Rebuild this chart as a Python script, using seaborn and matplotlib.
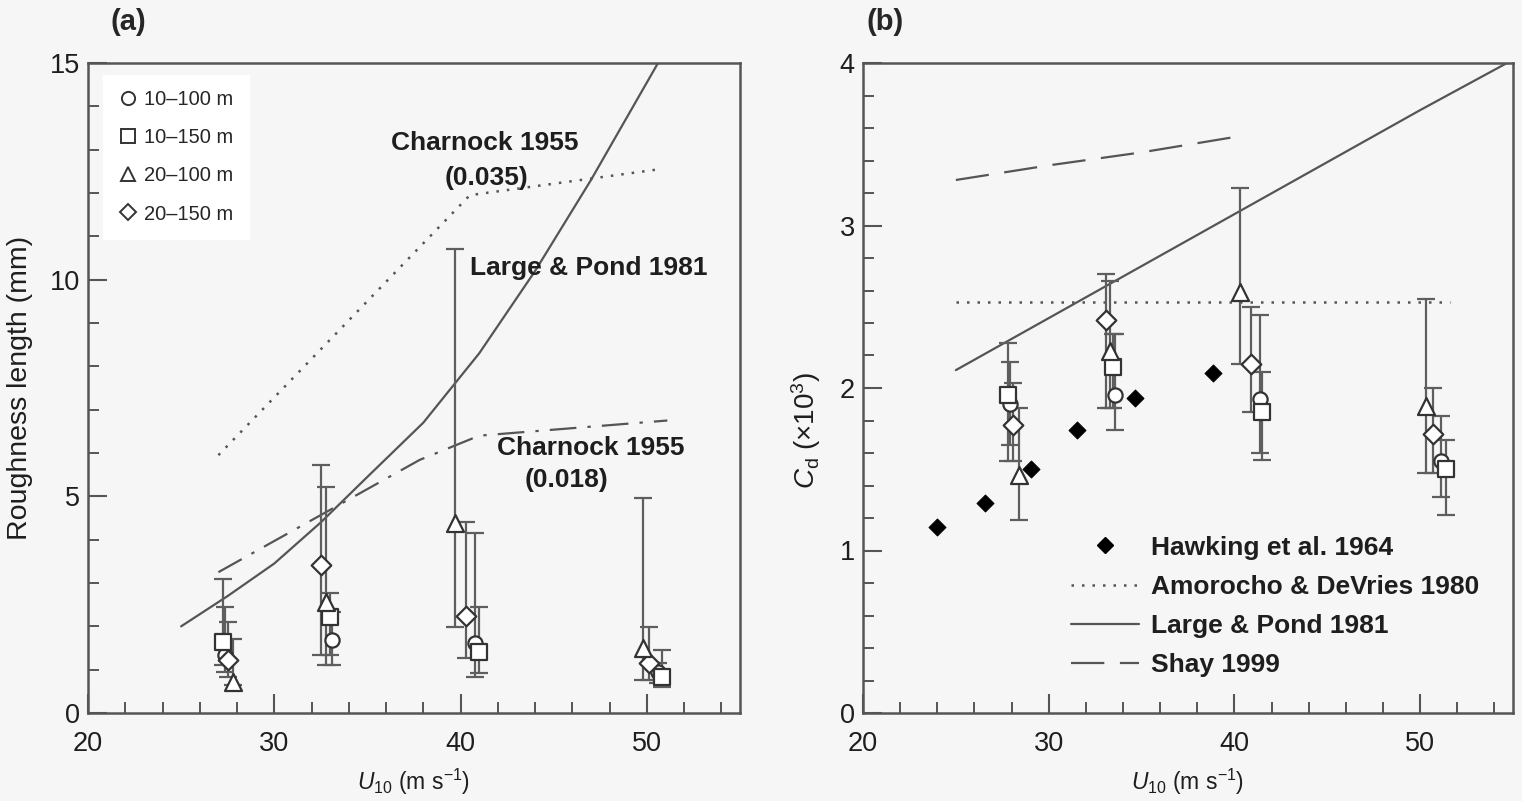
import numpy as np
import pandas as pd
import matplotlib
matplotlib.use("Agg")
import matplotlib.pyplot as plt
import seaborn as sns
from matplotlib.ticker import MultipleLocator
from matplotlib.lines import Line2D
from matplotlib.transforms import ScaledTranslation

# ---------------- data: panel (a) roughness length (mm) ----------------
a_circle_x = [27.35, 33.1, 40.8, 50.6]
a_circle_y = [1.35, 1.68, 1.62, 0.95]
a_circle_lo = [0.95, 1.11, 0.83, 0.70]
a_circle_hi = [2.45, 2.33, 4.15, 1.15]

a_square_x = [27.25, 33.0, 41.0, 50.8]
a_square_y = [1.64, 2.22, 1.41, 0.83]
a_square_lo = [1.10, 1.34, 0.92, 0.60]
a_square_hi = [3.09, 2.77, 2.45, 1.45]

a_tri_x = [27.8, 32.75, 39.7, 49.8]
a_tri_y = [0.72, 2.56, 4.38, 1.50]
a_tri_lo = [0.65, 1.11, 1.98, 0.76]
a_tri_hi = [1.70, 5.22, 10.7, 4.96]

a_dia_x = [27.5, 32.5, 40.3, 50.1]
a_dia_y = [1.22, 3.42, 2.24, 1.15]
a_dia_lo = [0.83, 1.34, 1.27, 0.76]
a_dia_hi = [2.10, 5.72, 4.41, 1.98]

a_lp_u = [25, 27.5, 30, 32.5, 35, 38, 41, 44, 47, 50.6]
a_lp_z = [2.0, 2.7, 3.45, 4.4, 5.45, 6.7, 8.3, 10.2, 12.3, 15.0]
a_ch035_u = [27, 40.5, 50.7]
a_ch035_z = [5.95, 11.95, 12.55]
a_ch018_u = [27, 37.8, 41.0, 51.1]
a_ch018_z = [3.25, 5.84, 6.4, 6.75]

# ---------------- data: panel (b) drag coefficient (x10^3) ----------------
b_circle_x = [27.9, 33.57, 41.4, 51.1]
b_circle_y = [1.90, 1.96, 1.93, 1.55]
b_circle_lo = [1.65, 1.74, 1.60, 1.33]
b_circle_hi = [2.16, 2.33, 2.45, 1.83]

b_square_x = [27.83, 33.45, 41.5, 51.4]
b_square_y = [1.96, 2.13, 1.85, 1.50]
b_square_lo = [1.55, 1.88, 1.56, 1.22]
b_square_hi = [2.28, 2.33, 2.10, 1.68]

b_tri_x = [28.4, 33.3, 40.3, 50.3]
b_tri_y = [1.465, 2.23, 2.59, 1.89]
b_tri_lo = [1.19, 1.88, 2.15, 1.48]
b_tri_hi = [1.88, 2.66, 3.23, 2.55]

b_dia_x = [28.1, 33.08, 40.9, 50.7]
b_dia_y = [1.77, 2.42, 2.15, 1.72]
b_dia_lo = [1.55, 1.88, 1.85, 1.48]
b_dia_hi = [2.03, 2.70, 2.50, 2.00]

hawk_u = [23.98, 26.57, 29.05, 31.52, 34.65, 38.85]
hawk_cd = [1.145, 1.29, 1.50, 1.74, 1.94, 2.09]
ad_u = [25, 51.6]
ad_cd = [2.53, 2.53]
lp_u = [25, 30, 35, 40, 45, 50, 55]
lp_cd = [2.11, 2.43, 2.75, 3.07, 3.39, 3.71, 4.02]
shay_u = [25, 30, 35, 40.3]
shay_cd = [3.28, 3.37, 3.45, 3.55]

legend_a_labels = ["10\u2013100 m", "10\u2013150 m", "20\u2013100 m", "20\u2013150 m"]
legend_b_labels = ["Hawking et al. 1964", "Amorocho & DeVries 1980",
                   "Large & Pond 1981", "Shay 1999"]

# ---------------- style ----------------
sns.set_theme(style="ticks")
plt.rcParams["font.family"] = ["Liberation Sans", "DejaVu Sans"]
plt.rcParams["mathtext.fontset"] = "custom"
plt.rcParams["mathtext.rm"] = "Liberation Sans"
plt.rcParams["mathtext.it"] = "Liberation Sans:italic"
plt.rcParams["mathtext.bf"] = "Liberation Sans:bold"

BG = "#f6f6f6"
INK = "#333333"
GRAY = "#5e5e5e"
LINE = "#555555"
TXT = "#1e1e1e"

W, H = 1522, 801
fig = plt.figure(figsize=(W / 100, H / 100), dpi=100, facecolor=BG)
axA = fig.add_axes([88 / W, 1 - 713 / H, 652 / W, 650 / H])
axB = fig.add_axes([863 / W, 1 - 713 / H, 650 / W, 650 / H])

markers = {"circle": ("o", 105), "square": ("s", 120), "tri": ("^", 150), "dia": ("D", 100)}


def draw_series(ax, x, y, lo, hi, key):
    x = np.asarray(x); y = np.asarray(y); lo = np.asarray(lo); hi = np.asarray(hi)
    ax.errorbar(x, y, yerr=[y - lo, hi - y], fmt="none", ecolor=GRAY,
                elinewidth=1.6, capsize=6.5, capthick=1.6, zorder=3)
    m, s = markers[key]
    df = pd.DataFrame({"u": x, "v": y})
    sns.scatterplot(data=df, x="u", y="v", marker=m, s=s, color="white",
                    edgecolor=INK, linewidth=1.6, ax=ax, zorder=5, legend=False)


def line(ax, u, v, ls, lw=1.6):
    df = pd.DataFrame({"u": u, "v": v})
    sns.lineplot(data=df, x="u", y="v", ax=ax, color=LINE, linewidth=lw,
                 linestyle=ls, sort=False, estimator=None, zorder=2)


def style_axes(ax, ylim, ymajor, yminor):
    ax.set_facecolor(BG)
    ax.set_xlim(20, 55)
    ax.set_ylim(*ylim)
    ax.xaxis.set_major_locator(MultipleLocator(10))
    ax.xaxis.set_minor_locator(MultipleLocator(2))
    ax.yaxis.set_major_locator(MultipleLocator(ymajor))
    ax.yaxis.set_minor_locator(MultipleLocator(yminor))
    ax.tick_params(which="both", direction="in", colors=LINE, labelcolor=TXT,
                   labelsize=19.5, top=False, right=False)
    ax.tick_params(which="major", length=14, width=1.5)
    ax.tick_params(which="minor", length=8, width=1.4)
    ax.tick_params(axis="x", which="major", pad=13)
    ax.tick_params(axis="y", which="major", pad=6)
    for sp in ax.spines.values():
        sp.set_visible(True)
        sp.set_color(LINE)
        sp.set_linewidth(1.8)
    ax.set_xlabel(r"$U_{10}$ (m s$^{-1}$)", fontsize=16.5, color=TXT, labelpad=7)


# ---------------- panel (a) ----------------
line(axA, a_lp_u, a_lp_z, "-")
line(axA, a_ch035_u, a_ch035_z, (0, (1, 3.2)), lw=1.8)
line(axA, a_ch018_u, a_ch018_z, (0, (12, 5, 1.5, 5)))
draw_series(axA, a_circle_x, a_circle_y, a_circle_lo, a_circle_hi, "circle")
draw_series(axA, a_square_x, a_square_y, a_square_lo, a_square_hi, "square")
draw_series(axA, a_dia_x, a_dia_y, a_dia_lo, a_dia_hi, "dia")
draw_series(axA, a_tri_x, a_tri_y, a_tri_lo, a_tri_hi, "tri")
style_axes(axA, (0, 15), 5, 1)
axA.set_ylabel("Roughness length (mm)", fontsize=20.5, color=TXT, labelpad=12)

txt = dict(fontsize=19, fontweight="bold", color=TXT, ha="center", va="center")
axA.text(41.3, 13.15, "Charnock 1955", **txt)
axA.text(41.4, 12.35, "(0.035)", **txt)
axA.text(46.9, 10.27, "Large & Pond 1981", **txt)
axA.text(47.0, 6.12, "Charnock 1955", **txt)
axA.text(45.7, 5.38, "(0.018)", **txt)

handles_a = [Line2D([], [], marker=m, linestyle="none", markersize=ms,
                    markerfacecolor="white", markeredgecolor=INK, markeredgewidth=1.4)
             for m, ms in [("o", 9.5), ("s", 10), ("^", 10.5), ("D", 8.5)]]
legA = axA.legend(handles_a, legend_a_labels, loc="upper left",
                  bbox_to_anchor=((103 - 88) / 652, (713 - 75) / 650),
                  fontsize=14.5, frameon=True, fancybox=False, framealpha=1,
                  edgecolor="white", facecolor="white", handlelength=1.0,
                  handletextpad=0.3, labelspacing=0.95, borderpad=0.75,
                  borderaxespad=0)
legA.set_zorder(10)

# ---------------- panel (b) ----------------
line(axB, ad_u, ad_cd, (0, (1, 3.2)), lw=1.8)
line(axB, lp_u, lp_cd, "-")
line(axB, shay_u, shay_cd, (0, (15, 7)))
sns.scatterplot(x=hawk_u, y=hawk_cd, marker="D", s=75, color="black",
                edgecolor="black", ax=axB, zorder=6, legend=False)
draw_series(axB, b_circle_x, b_circle_y, b_circle_lo, b_circle_hi, "circle")
draw_series(axB, b_square_x, b_square_y, b_square_lo, b_square_hi, "square")
draw_series(axB, b_dia_x, b_dia_y, b_dia_lo, b_dia_hi, "dia")
draw_series(axB, b_tri_x, b_tri_y, b_tri_lo, b_tri_hi, "tri")
style_axes(axB, (0, 4), 1, 0.2)
axB.set_ylabel(r"$C_{\mathrm{d}}$ ($\times$10$^{3}$)", fontsize=20, color=TXT, labelpad=8)
axB.yaxis.set_label_coords(-0.062, (713 - 430) / 650)

handles_b = [Line2D([], [], marker="D", linestyle="none", markersize=8.5, color="black"),
             Line2D([], [], color=LINE, linewidth=1.8, linestyle=(0, (1, 3.2))),
             Line2D([], [], color=LINE, linewidth=1.6, linestyle="-"),
             Line2D([], [], color=LINE, linewidth=1.6, linestyle=(0, (15, 7)))]
legB = axB.legend(handles_b, legend_b_labels, loc="upper left",
                  bbox_to_anchor=((1060 - 863) / 650, (713 - 525) / 650),
                  frameon=False, handlelength=2.6, handletextpad=0.45,
                  labelspacing=0.58, borderaxespad=0,
                  prop={"size": 19, "weight": "bold"})
for t in legB.get_texts():
    t.set_color(TXT)

fig.text(128 / W, 1 - 22 / H, "(a)", fontsize=21, fontweight="bold", ha="center", va="center")
fig.text(885 / W, 1 - 22 / H, "(b)", fontsize=21, fontweight="bold", ha="center", va="center")

# shift the first x tick label ("20") slightly right, as in the reference
fig.canvas.draw()
for ax in (axA, axB):
    lab = ax.xaxis.get_major_ticks()[0].label1
    lab.set_transform(lab.get_transform() + ScaledTranslation(9 / 100, 0, fig.dpi_scale_trans))

fig.savefig("out.png", dpi=100, facecolor=BG)
